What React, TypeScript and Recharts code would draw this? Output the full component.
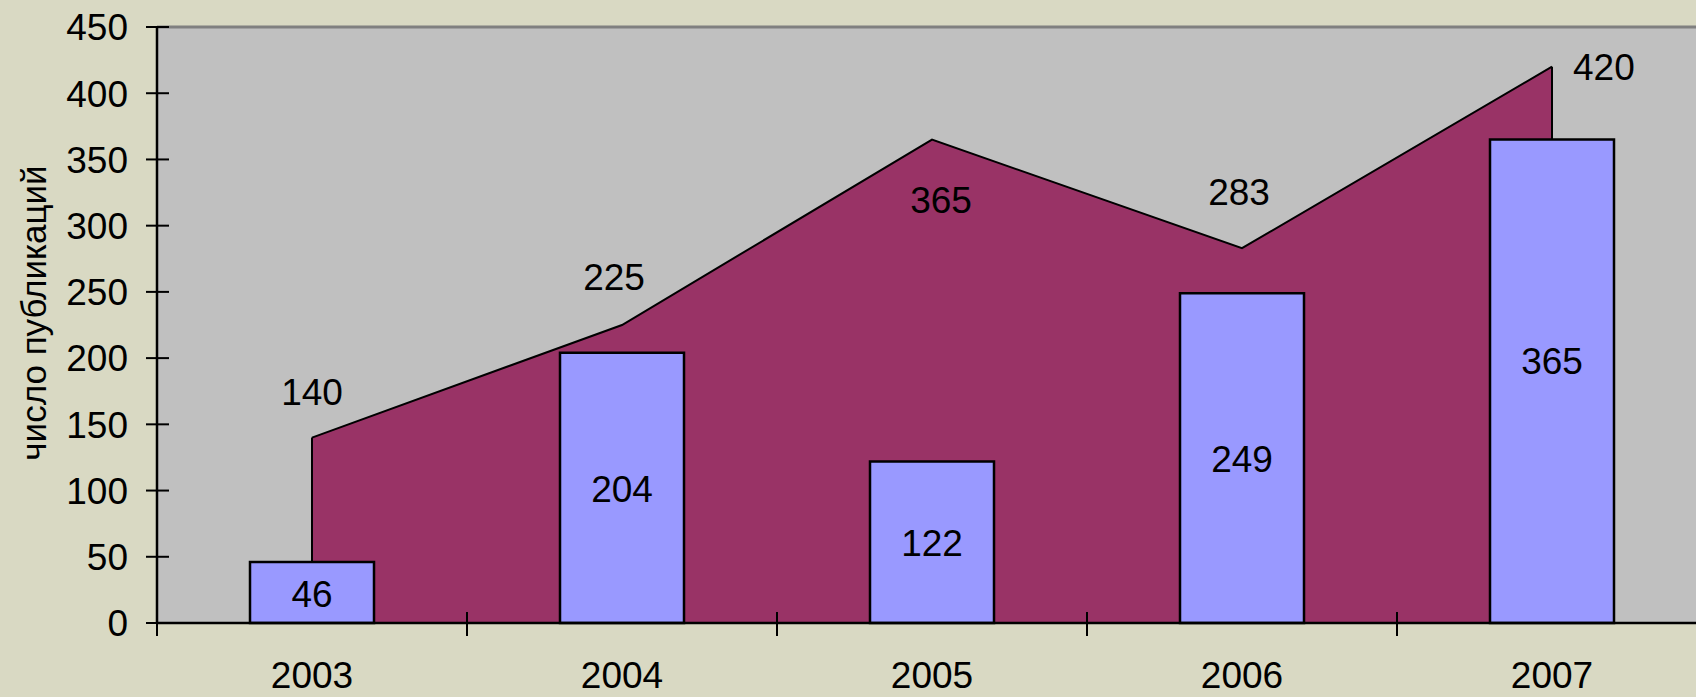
import React from 'react';
import {
  ComposedChart,
  Area,
  Bar,
  XAxis,
  YAxis,
  CartesianGrid,
  ReferenceLine,
  LabelList,
  Label,
} from 'recharts';

const years = ['2003', '2004', '2005', '2006', '2007'];
const totalValues = [140, 225, 365, 283, 420];
const barValues = [46, 204, 122, 249, 365];
const yTicks = [0, 50, 100, 150, 200, 250, 300, 350, 400, 450];
const yAxisTitle = 'число публикаций';

const data = years.map((year, i) => ({ year, total: totalValues[i], items: barValues[i] }));

const CHART_W = 1720;
const CHART_H = 697;
const MARGIN = { top: 27, right: 13, bottom: 0, left: 0 };
const Y_AXIS_W = 157;
const X_AXIS_H = 74;
const PLOT_W = CHART_W - MARGIN.left - MARGIN.right - Y_AXIS_W;
const BAND = PLOT_W / years.length;
const FONT = '"Liberation Sans", Arial, sans-serif';
const FS = 37;

const BG = '#D9D9C3';
const PLOT_BG = '#C0C0C0';
const AREA_FILL = '#993366';
const BAR_FILL = '#9999FF';

// label offsets (text centre relative to data point)
const areaLabelOffsets = [
  { dx: 0, dy: -46, anchor: 'middle' },
  { dx: -8, dy: -48, anchor: 'middle' },
  { dx: 9, dy: 60, anchor: 'middle' },
  { dx: -3, dy: -57, anchor: 'middle' },
  { dx: 21, dy: 0, anchor: 'start' },
];
const barLabelOffsets = [1, 1, 0, 1, -21];

const YTick = (props: any) => {
  const { x, y, payload } = props;
  return (
    <g>
      <line x1={x - 11} x2={x + 12} y1={y} y2={y} stroke="#000" strokeWidth={2} />
      <text x={x - 29} y={y} dy="0.36em" textAnchor="end" fontFamily={FONT} fontSize={FS} fill="#000">
        {payload.value}
      </text>
    </g>
  );
};

const XTick = (props: any) => {
  const { x, y, payload } = props;
  const bx = x - BAND / 2;
  return (
    <g>
      <line x1={bx} x2={bx} y1={y - 11} y2={y + 13} stroke="#000" strokeWidth={2} />
      <text x={x} y={y + 52} dy="0.36em" textAnchor="middle" fontFamily={FONT} fontSize={FS} fill="#000">
        {payload.value}
      </text>
    </g>
  );
};

const areaLabel = (props: any) => {
  const { index, value } = props;
  const vb = props.viewBox || props;
  const px = (vb.x ?? props.x) + (vb.width || 0) / 2;
  const py = vb.y ?? props.y;
  const o = areaLabelOffsets[index] || { dx: 0, dy: -45, anchor: 'middle' };
  return (
    <text
      x={px + o.dx}
      y={py + o.dy}
      dy="0.36em"
      textAnchor={o.anchor}
      fontFamily={FONT}
      fontSize={FS}
      fill="#000"
    >
      {value}
    </text>
  );
};

const barLabel = (props: any) => {
  const { index, value } = props;
  const vb = props.viewBox || props;
  const cx = vb.x + vb.width / 2;
  const cy = vb.y + vb.height / 2 + (barLabelOffsets[index] || 0);
  return (
    <text x={cx} y={cy} dy="0.36em" textAnchor="middle" fontFamily={FONT} fontSize={FS} fill="#000">
      {value}
    </text>
  );
};

const yTitle = () => (
  <text
    x={33}
    y={313}
    transform="rotate(-90 33 313)"
    dy="0.36em"
    textAnchor="middle"
    fontFamily={FONT}
    fontSize={35}
    fill="#000"
  >
    {yAxisTitle}
  </text>
);

export default function App() {
  return (
    <div
      style={{
        position: 'absolute',
        left: 0,
        top: 0,
        width: 1696,
        height: 697,
        overflow: 'hidden',
        background: BG,
      }}
    >
      <ComposedChart width={CHART_W} height={CHART_H} data={data} margin={MARGIN}>
        <CartesianGrid horizontal={false} vertical={false} fill={PLOT_BG} stroke="none" />
        <XAxis
          dataKey="year"
          height={X_AXIS_H}
          axisLine={{ stroke: '#000', strokeWidth: 2.5 }}
          tickLine={false}
          tickSize={0}
          tickMargin={0}
          tick={<XTick />}
          interval={0}
        />
        <YAxis
          width={Y_AXIS_W}
          domain={[0, 450]}
          ticks={yTicks}
          axisLine={{ stroke: '#000', strokeWidth: 2.5 }}
          tickLine={false}
          tickSize={0}
          tickMargin={0}
          tick={<YTick />}
          interval={0}
        >
          <Label content={yTitle} />
        </YAxis>
        <ReferenceLine y={450} stroke="#808080" strokeWidth={3} />
        <Area
          type="linear"
          dataKey="total"
          fill={AREA_FILL}
          fillOpacity={1}
          stroke="#000"
          strokeWidth={2}
          dot={false}
          activeDot={false}
          isAnimationActive={false}
        >
          <LabelList dataKey="total" content={areaLabel} />
        </Area>
        <ReferenceLine
          segment={[
            { x: years[0], y: barValues[0] },
            { x: years[0], y: totalValues[0] },
          ]}
          stroke="#000"
          strokeWidth={2}
        />
        <ReferenceLine
          segment={[
            { x: years[years.length - 1], y: barValues[barValues.length - 1] },
            { x: years[years.length - 1], y: totalValues[totalValues.length - 1] },
          ]}
          stroke="#000"
          strokeWidth={2}
        />
        <Bar
          dataKey="items"
          barSize={124}
          fill={BAR_FILL}
          stroke="#000"
          strokeWidth={2.5}
          isAnimationActive={false}
        >
          <LabelList dataKey="items" content={barLabel} />
        </Bar>
      </ComposedChart>
    </div>
  );
}
